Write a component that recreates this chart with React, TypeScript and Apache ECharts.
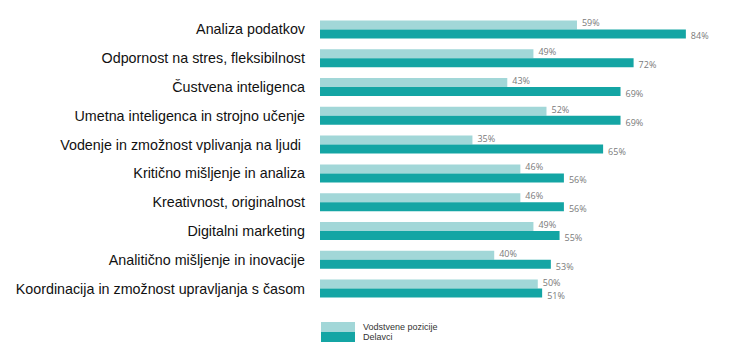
import React, { useEffect, useRef } from "react";
import * as echarts from "echarts";

const categories = [
  "Analiza podatkov",
  "Odpornost na stres, fleksibilnost",
  "Čustvena inteligenca",
  "Umetna inteligenca in strojno učenje",
  "Vodenje in zmožnost vplivanja na ljudi ",
  "Kritično mišljenje in analiza",
  "Kreativnost, originalnost",
  "Digitalni marketing",
  "Analitično mišljenje in inovacije",
  "Koordinacija in zmožnost upravljanja s časom",
];
const vodstvene = [59, 49, 43, 52, 35, 46, 46, 49, 40, 50];
const delavci = [84, 72, 69, 69, 65, 56, 56, 55, 53, 51];
const seriesNames = ["Vodstvene pozicije", "Delavci"];

export default function App() {
  const ref = useRef<HTMLDivElement>(null);
  useEffect(() => {
    const chart = echarts.init(ref.current!, null, { renderer: "svg" });
    const label = (dy: number) => ({
      show: true,
      position: "right",
      distance: 5,
      offset: [0, dy],
      formatter: "{c}%",
      color: "#7a7a7a",
      fontSize: 9,
      lineHeight: 9,
      fontFamily: "Open Sans",
    });
    chart.setOption({
      animation: false,
      legend: {
        orient: "vertical",
        left: 321,
        top: 322,
        padding: 0,
        itemWidth: 34,
        itemHeight: 10,
        itemGap: 0,
        icon: "rect",
        itemStyle: { borderWidth: 0 },
        textStyle: { fontSize: 9, color: "#333", fontFamily: "Liberation Sans", padding: [0, 0, 0, 3] },
        data: seriesNames,
      },
      grid: { left: 320, top: 15, width: 392, height: 288, containLabel: false },
      xAxis: {
        type: "value",
        min: 0,
        max: 90,
        show: false,
      },
      yAxis: {
        type: "category",
        inverse: true,
        data: categories,
        axisLine: { show: false },
        axisTick: { show: false },
        axisLabel: {
          margin: 15,
          color: "#111",
          fontSize: 14.3,
          fontFamily: "Liberation Sans",
        },
      },
      series: [
        {
          name: seriesNames[0],
          type: "bar",
          data: vodstvene,
          barWidth: 9,
          barGap: "0%",
          itemStyle: { color: "#a2d7d8" },
          label: label(-2),
        },
        {
          name: seriesNames[1],
          type: "bar",
          data: delavci,
          barWidth: 9,
          itemStyle: { color: "#14a5a4" },
          label: label(2),
        },
      ],
    });
    return () => chart.dispose();
  }, []);
  return <div ref={ref} style={{ width: 737, height: 360, margin: -8 }} />;
}
